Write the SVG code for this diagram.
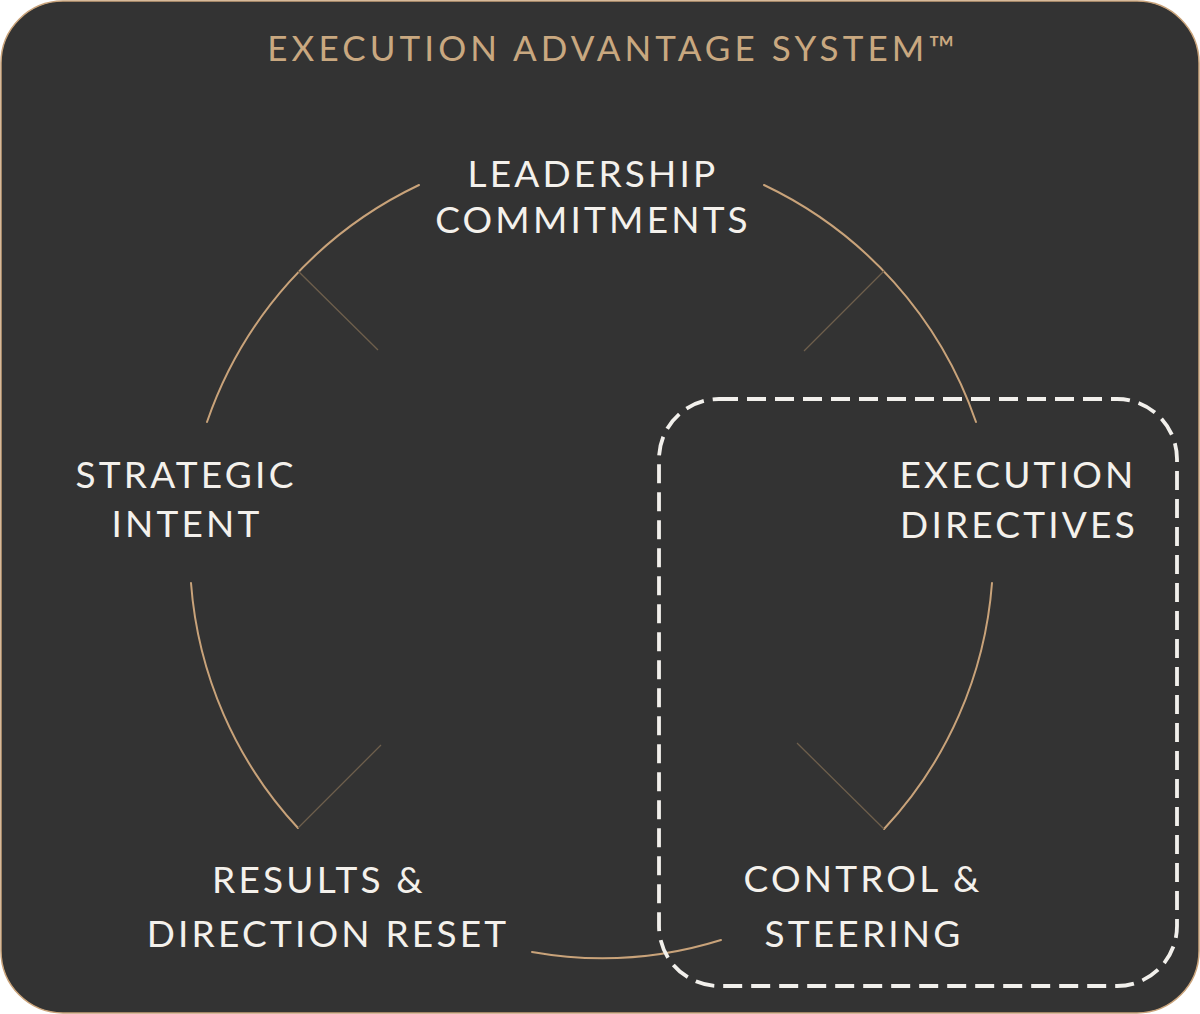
<svg xmlns="http://www.w3.org/2000/svg" width="1200" height="1014" viewBox="0 0 1200 1014">
  <style>
    .lbl { font-family: Lato, "Noto Sans", "Liberation Sans", sans-serif; font-size: 37px; fill: #f4f1ec; letter-spacing: 3.2px; text-anchor: middle; }
    .title { font-family: Lato, "Noto Sans", "Liberation Sans", sans-serif; font-size: 35px; fill: #c9a880; letter-spacing: 4.1px; text-anchor: middle; }
    .arc { fill: none; stroke: #c9a37a; stroke-width: 2; stroke-linecap: round; }
    .tick { fill: none; stroke: #6e5f4c; stroke-width: 1.3; }
  </style>
  <rect x="1" y="1" width="1198" height="1012" rx="62" ry="62" fill="#333333" stroke="#c9a37a" stroke-width="1.5"/>
  <text class="title" x="613" y="61">EXECUTION ADVANTAGE SYSTEM™</text>

  <g id="connectors">
    <path class="arc" d="M207,422 A410,410 0 0 1 419,185"/>
    <path class="arc" d="M764,185 A410,410 0 0 1 976,422"/>
    <path class="arc" d="M992,583 A405,405 0 0 1 884,829"/>
    <path class="arc" d="M721,940 A400,400 0 0 1 532,952"/>
    <path class="arc" d="M298,828 A405,405 0 0 1 191,583"/>
    <line class="tick" x1="298" y1="271" x2="378" y2="350"/>
    <line class="tick" x1="884" y1="271" x2="804" y2="351"/>
    <line class="tick" x1="298" y1="828" x2="381" y2="745"/>
    <line class="tick" x1="884" y1="829" x2="797" y2="743"/>
  </g>

  <g id="highlight">
    <rect x="659" y="399" width="518" height="587" rx="60" ry="60" fill="none" stroke="#f2f0ec" stroke-width="3.8" stroke-dasharray="19 9"/>
  </g>

  <g id="leadership">
    <text class="lbl" x="593" y="187">LEADERSHIP</text>
    <text class="lbl" x="593" y="233">COMMITMENTS</text>
  </g>
  <g id="strategic">
    <text class="lbl" x="186" y="488">STRATEGIC</text>
    <text class="lbl" x="187" y="537">INTENT</text>
  </g>
  <g id="execution">
    <text class="lbl" x="1018" y="488">EXECUTION</text>
    <text class="lbl" x="1019" y="538">DIRECTIVES</text>
  </g>
  <g id="results">
    <text class="lbl" x="319" y="893">RESULTS &amp;</text>
    <text class="lbl" x="328" y="947">DIRECTION RESET</text>
  </g>
  <g id="control">
    <text class="lbl" x="863" y="892">CONTROL &amp;</text>
    <text class="lbl" x="864" y="947">STEERING</text>
  </g>
</svg>
